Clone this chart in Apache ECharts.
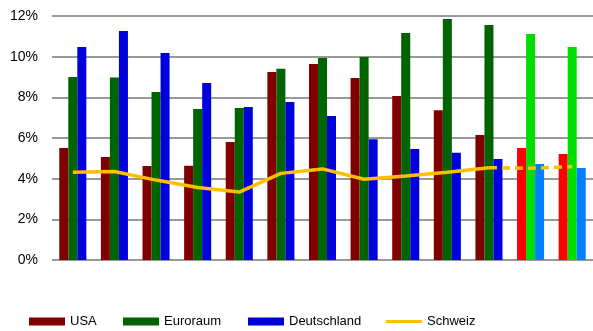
<!DOCTYPE html>
<html>
<head>
<meta charset="utf-8">
<script src="https://cdn.jsdelivr.net/npm/echarts@6/dist/echarts.min.js"></script>
<style>
  html, body { margin: 0; padding: 0; background: #fff; }
  #chart { width: 593px; height: 331px; }
</style>
</head>
<body>
<div id="chart"></div>
<script>
const categories = ['1', '2', '3', '4', '5', '6', '7', '8', '9', '10', '11', '12', '13']
const usa = [5.51, 5.07, 4.62, 4.63, 5.8, 9.25, 9.64, 8.95, 8.07, 7.37, 6.15, 5.51, 5.21]
const euroraum = [9.0, 8.98, 8.26, 7.43, 7.48, 9.4, 9.94, 9.98, 11.17, 11.85, 11.56, 11.12, 10.48]
const deutschland = [10.48, 11.26, 10.18, 8.71, 7.52, 7.77, 7.08, 5.94, 5.46, 5.28, 4.97, 4.72, 4.53]
const schweiz = [4.31, 4.35, 3.93, 3.57, 3.34, 4.26, 4.48, 3.97, 4.13, 4.31, 4.54, 4.51, 4.59]
const forecastFrom = 11 // index of first forecast group

const colors = {
  usa: ['#800000', '#ff0000'],
  euro: ['#006400', '#00dd00'],
  de: ['#0000dd', '#0080ff'],
  ch: '#ffbf00'
}

function barData(values, pair) {
  return values.map((v, i) => ({
    value: v,
    itemStyle: { color: i >= forecastFrom ? pair[1] : pair[0] }
  }))
}

const schweizSolid = schweiz.map((v, i) => (i <= forecastFrom - 1 ? v : null))
const schweizDashed = schweiz.map((v, i) => (i >= forecastFrom - 1 ? v : null))

const textStyle = { fontFamily: 'Liberation Sans, Arial, sans-serif', fontSize: 13, color: '#000' }

function legendAt(name, left, isLine) {
  return {
    data: [{ name, icon: 'rect' }],
    left,
    top: 315,
    padding: 0,
    itemWidth: 36,
    itemHeight: isLine ? 3 : 8,
    itemGap: 5,
    textStyle: textStyle,
    selectedMode: false
  }
}

const chart = echarts.init(document.getElementById('chart'))
chart.setOption({
  animation: false,
  legend: [
    legendAt('USA', 29),
    legendAt('Euroraum', 123),
    legendAt('Deutschland', 248),
    legendAt('Schweiz', 386, true)
  ],
  grid: { left: 52, right: 0, top: 16, bottom: 71 },
  xAxis: {
    type: 'category',
    data: categories,
    axisLine: { show: false },
    axisTick: { show: false },
    axisLabel: { show: false }
  },
  yAxis: {
    type: 'value',
    min: 0,
    max: 12,
    interval: 2,
    axisLabel: { formatter: '{value}%', ...textStyle, fontSize: 14, margin: 14 },
    axisLine: { show: false },
    axisTick: { show: false },
    splitLine: { lineStyle: { color: '#777', width: 1.5 } }
  },
  series: [
    {
      name: 'USA', type: 'bar', data: barData(usa, colors.usa),
      itemStyle: { color: colors.usa[0] },
      barGap: '0%', barCategoryGap: '35%'
    },
    {
      name: 'Euroraum', type: 'bar', data: barData(euroraum, colors.euro),
      itemStyle: { color: colors.euro[0] }
    },
    {
      name: 'Deutschland', type: 'bar', data: barData(deutschland, colors.de),
      itemStyle: { color: colors.de[0] }
    },
    {
      name: 'Schweiz', type: 'line', data: schweizSolid,
      symbol: 'none', itemStyle: { color: colors.ch },
      lineStyle: { color: colors.ch, width: 3.5 }, z: 5
    },
    {
      name: 'Schweiz Prognose', type: 'line', data: schweizDashed,
      symbol: 'none', itemStyle: { color: colors.ch },
      lineStyle: { color: colors.ch, width: 3.5, type: [8, 5] }, z: 5
    }
  ]
})
</script>
</body>
</html>
